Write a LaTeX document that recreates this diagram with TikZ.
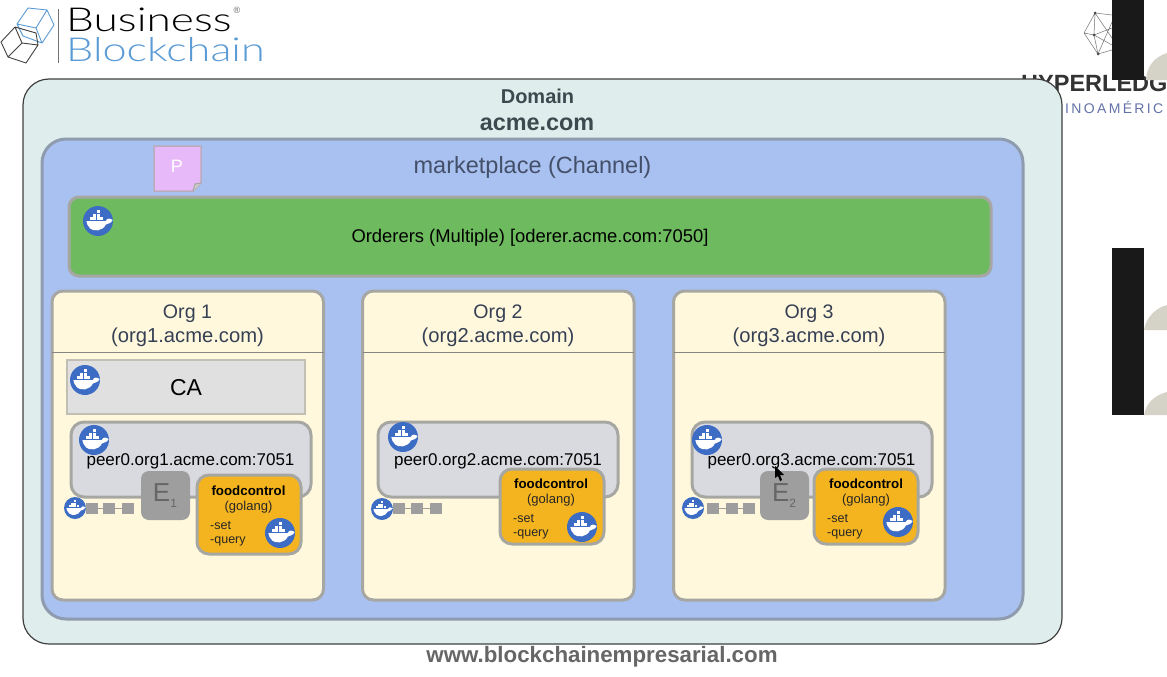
\documentclass[tikz,border=0pt]{standalone}
\usepackage{fontspec}
\setmainfont{Liberation Sans}
\newfontfamily\logofont[UprightFont=* Light]{Lato}
\usetikzlibrary{calc}
\definecolor{domfill}{HTML}{DFEEEC}
\definecolor{chanfill}{HTML}{A9C1F0}
\definecolor{chanedge}{HTML}{8F9BAE}
\definecolor{ordfill}{HTML}{6DBB5E}
\definecolor{orgfill}{HTML}{FFF8DC}
\definecolor{edgegrey}{HTML}{A6A6A2}
\definecolor{peerfill}{HTML}{D9DAE0}
\definecolor{cafill}{HTML}{E0E0E0}
\definecolor{egrey}{HTML}{9E9E9E}
\definecolor{foodfill}{HTML}{F4B41F}
\definecolor{dockblue}{HTML}{3D6CC4}
\definecolor{notefill}{HTML}{E8B9F9}
\definecolor{inktext}{HTML}{2A2A2A}
\definecolor{headtext}{HTML}{3C4A50}
\definecolor{chantext}{HTML}{44506A}
\definecolor{logoblue}{HTML}{5B9BD5}
\definecolor{beige}{HTML}{D5D2C8}
\definecolor{latblue}{HTML}{6472A8}
\newcommand{\fsz}[1]{\fontsize{#1}{#1}\selectfont}
\tikzset{
  x=1pt,y=-1pt,
  box/.style={rounded corners=#1,line width=3pt,draw=edgegrey},
  orgbox/.style={box=11,fill=orgfill},
  peerbox/.style={box=13,fill=peerfill},
  foodbox/.style={box=12,fill=foodfill},
  ebox/.style={rounded corners=8,fill=egrey},
  lbl/.style={inner sep=0pt,text=inktext},
  sq/.style={fill=egrey,minimum width=12pt,minimum height=11pt,inner sep=0pt},
  pics/dockerlogo/.style={code={
    \fill[dockblue] (0,0) circle (1);
    \fill[white] (-0.78,0) -- (0.52,0) .. controls (0.6,-0.2) and (0.78,-0.2) .. (0.98,-0.06)
      .. controls (0.85,0.2) and (0.65,0.14) .. (0.52,0.24)
      .. controls (0.32,0.68) and (-0.3,0.72) .. (-0.52,0.5)
      .. controls (-0.68,0.34) and (-0.76,0.18) .. cycle;
    \foreach \cx in {-0.56,-0.32,-0.08,0.16} \fill[white] (\cx,-0.25) rectangle +(0.2,0.2);
    \foreach \cx in {-0.32,-0.08} \fill[white] (\cx,-0.48) rectangle +(0.2,0.2);
    \fill[white] (-0.08,-0.71) rectangle +(0.2,0.2);
  }}
}
\begin{document}
\begin{tikzpicture}
\useasboundingbox (0,0) rectangle (1167,677);
\fill[white] (0,0) rectangle (1167,677);
\begin{scope}
\clip (0,0) rectangle (1167,677);
% logo
\draw[logoblue,line width=0.9pt,line join=round] (17,24) -- (28,8) -- (47,10) -- (54,25) -- (42,43) -- (23,36) -- cycle
  (17,24) -- (36,28) -- (47,10) (36,28) -- (42,43);
\draw[black!75,line width=0.9pt,line join=round] (1,42) -- (15,27) -- (36,33) -- (38,45) -- (26,63) -- (8,57) -- cycle
  (15,27) -- (22,43) -- (38,45) (22,43) -- (8,57);
\draw[black!55,line width=1.2pt] (58.5,9) -- (58.5,63);
\node[lbl,anchor=base west,text=black] (bizword) at (66,32) {\scalebox{1.34}[1]{\logofont\fsz{33}Business}};
\node[lbl,anchor=base west,text=logoblue] (chainword) at (66,62) {\scalebox{1.31}[1]{\logofont\fsz{33}Blockchain}};
\node[lbl,text=black!60] (regmark) at (237,10) {\fsz{9}®};
% hyperledger
\draw[black!55,line width=0.5pt] (1084,33) -- (1095,13) -- (1112,15) (1084,33) -- (1098,54) -- (1112,50)
  (1095,13) -- (1094,35) -- (1098,54) (1084,33) -- (1094,35) -- (1112,28) (1095,13) -- (1112,38) (1098,54) -- (1112,22) (1094,35) -- (1112,45);
\fill[black!70] (1095,13) circle (1.5) (1094,35) circle (1.5) (1098,54) circle (1.5);
\node[lbl,anchor=base west,text=black!80] (hlword) at (1021,92) {\fsz{23.5}\bfseries HYPERLEDG};
\node[lbl,anchor=base west,text=latblue] (latword) at (1065,113) {\fsz{14}I\,N\,O\,A\,M\,É\,R\,I\,C};
\fill[beige] (1146,80) .. controls (1147,65) and (1155,57) .. (1167,53) -- (1167,80) -- cycle;
\fill[beige] (1144,330) .. controls (1146,318) and (1155,308) .. (1167,305) -- (1167,330) -- cycle;
\fill[beige] (1144,415) .. controls (1146,403) and (1155,395) .. (1167,392) -- (1167,415) -- cycle;
\fill[black!90] (1112,0) rectangle (1144,80);
\fill[black!90] (1112,248) rectangle (1144,415);
\end{scope}
% containers
\draw[fill=domfill,draw=black!75,line width=1.2pt,rounded corners=26] (23,79) rectangle (1062,644);
\draw[fill=chanfill,draw=chanedge,line width=3pt,rounded corners=24] (42,139) rectangle (1023,619);
\node[lbl,text=headtext] (domword) at (537.5,96.5) {\fsz{20}\bfseries Domain};
\node[lbl,text=headtext] (acme) at (537,124) {\fsz{23.4}\bfseries acme.com};
\node[lbl,text=chantext] (chan) at (532.5,167) {\fsz{23.5}marketplace (Channel)};
% note
\draw[fill=notefill,draw=edgegrey!70!notefill,line width=1.5pt,line join=round] (154,146) -- (201,146) -- (201,183) -- (193,191) -- (154,191) -- cycle;
\draw[edgegrey,fill=edgegrey!60,line width=1pt] (201,183) -- (195,184) -- (193,191);
\node[lbl,text=white] (ptag) at (177,166) {\fsz{18}P};
% orderers
\draw[fill=ordfill,draw=edgegrey,line width=3pt,rounded corners=10] (69,197) rectangle (991,276);
\node[lbl,text=black] (ord) at (530,238) {\fsz{18.4}Orderers (Multiple) [oderer.acme.com:7050]};
\pic at (98,221) [scale=15] {dockerlogo};
% orgs
\foreach \ox/\n in {52/1,362.5/2,673.5/3}{
  \draw[orgbox] (\ox,291) rectangle ++(271.5,309);
  \draw[edgegrey!80!black,line width=1pt] (\ox,352) -- ++(271.5,0);
  \node[lbl,text=chantext!80!black] (orgt\n) at ($(\ox,313.5)+(135.5,0)$) {\fsz{19.6}Org \n};
  \node[lbl,text=chantext!80!black] (orgd\n) at ($(\ox,337)+(135.5,0)$) {\fsz{20.2}(org\n.acme.com)};
}
% CA
\draw[fill=cafill,draw=edgegrey!70!orgfill,line width=1.5pt] (67,360) rectangle (305,414);
\node[lbl,text=black] (ca) at (186,388) {\fsz{23}CA};
\pic at (85,380) [scale=15] {dockerlogo};
% peers
\draw[peerbox] (71,422) rectangle (311,497);
\draw[peerbox] (378,422) rectangle (618,497);
\draw[peerbox] (692,422) rectangle (932,497);
\node[lbl,text=black] (peer1) at (190.5,461) {\fsz{17}peer0.org1.acme.com:7051};
\node[lbl,text=black] (peer2) at (498,461) {\fsz{17}peer0.org2.acme.com:7051};
\node[lbl,text=black] (peer3) at (811.5,461) {\fsz{17}peer0.org3.acme.com:7051};
% endorsers
\fill[ebox] (141,471) rectangle (190,520);
\fill[ebox] (760,471) rectangle (809,520);
\node[lbl,text=black!60] (e1) at (165,496) {\fsz{26}E\raisebox{-6pt}{\fsz{12}1}};
\node[lbl,text=black!60] (e2) at (784,496) {\fsz{26}E\raisebox{-6pt}{\fsz{12}2}};
% chaincode boxes
\draw[foodbox] (197,475) rectangle (301,554);
\draw[foodbox] (500,469) rectangle (604,544);
\draw[foodbox] (814,469) rectangle (918,544);
\foreach \cx/\lx/\yo/\n in {248.5/210/491/1,551/513/484/2,866/827/484/3}{
  \node[lbl,text=black] (fc\n) at (\cx,\yo) {\fsz{13.3}\bfseries foodcontrol};
  \node[lbl,text=black!85] (go\n) at (\cx,\yo+16) {\fsz{13}(golang)};
  \node[lbl,text=black!85,anchor=west] (set\n) at (\lx,\yo+34.5) {\fsz{12.5}-set};
  \node[lbl,text=black!85,anchor=west] (qu\n) at (\lx,\yo+50.5) {\fsz{12.5}-query};
}
% ledgers
\foreach \ax/\bx/\cx/\n in {92/109/128/1,399/417/436/2,713/732/749/3}{
  \node[sq] (sa\n) at (\ax,508) {};
  \node[sq] (sb\n) at (\bx,508) {};
  \node[sq] (sc\n) at (\cx,508) {};
  \draw[egrey,line width=1pt] (sa\n) -- (sb\n) -- (sc\n);
}
% docker badges
\foreach \px/\py in {94/440,403/437,707/440,280/533,582/527,898/522} \pic at (\px,\py) [scale=15] {dockerlogo};
\foreach \px/\py in {75/508,382/509,693/508} \pic at (\px,\py) [scale=11] {dockerlogo};
% pointer
\fill[black] (775,466) -- (775,478) -- (778,476) -- (780,481) -- (782,480) -- (780,475) -- (784,475) -- cycle;
% footer
\node[lbl,text=black!60] (site) at (602,657) {\fsz{22.3}\bfseries www.blockchainempresarial.com};
\end{tikzpicture}
\end{document}
